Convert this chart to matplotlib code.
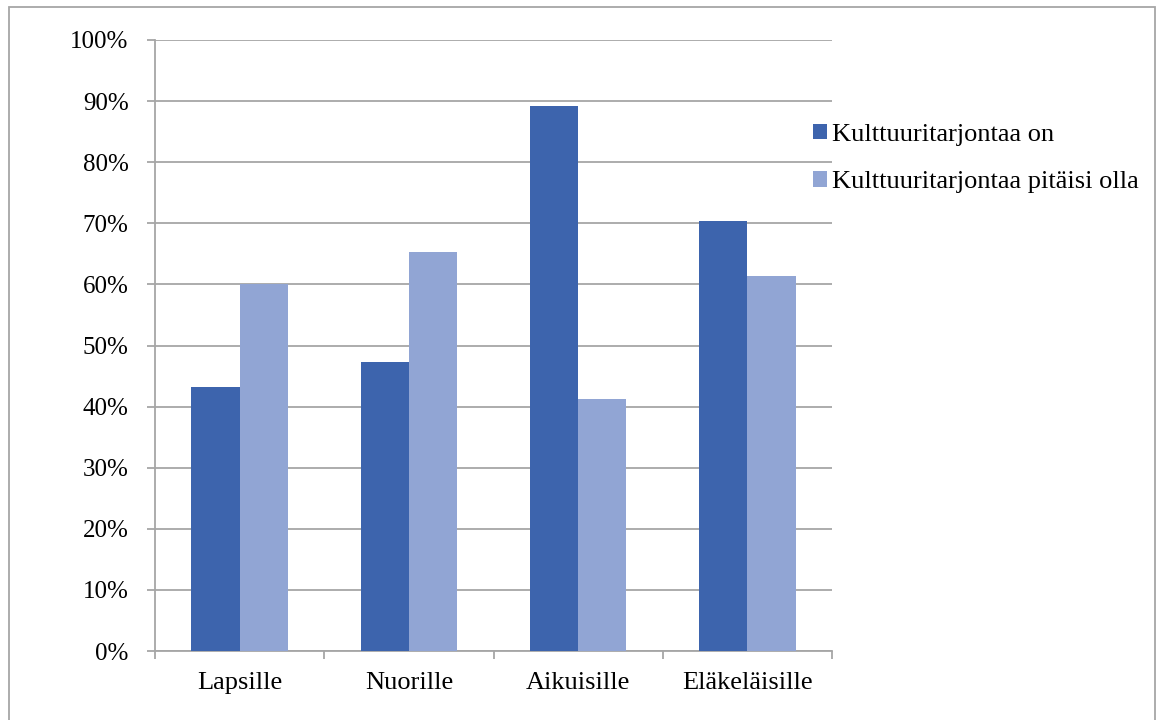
import matplotlib
matplotlib.use("Agg")
import matplotlib.pyplot as plt
import numpy as np
from matplotlib.patches import Rectangle

categories = ["Lapsille", "Nuorille", "Aikuisille", "Eläkeläisille"]
series_names = ["Kulttuuritarjontaa on", "Kulttuuritarjontaa pitäisi olla"]
on_values = [43.2, 47.3, 89.2, 70.3]
should_values = [60.1, 65.3, 41.3, 61.3]
y_ticks = [0, 10, 20, 30, 40, 50, 60, 70, 80, 90, 100]
y_tick_labels = [f"{t}%" for t in y_ticks]

dark = "#3D64AD"
light = "#91A5D4"
grid_col = "#A6A6A6"

plt.rcParams["font.family"] = ["Liberation Serif", "DejaVu Serif"]

W, H = 1160, 720
fig = plt.figure(figsize=(W / 100, H / 100), dpi=100)
fig.patch.set_facecolor("white")

# axes box in pixels: left 155, right 832, top 40, bottom 651
left, right, top, bottom = 155, 832, 40, 651
ax = fig.add_axes([left / W, 1 - bottom / H, (right - left) / W, (bottom - top) / H])

x = np.arange(len(categories))
bw = 1 / 3.5
ax.bar(x - bw / 2, on_values, bw, color=dark, label=series_names[0], zorder=3)
ax.bar(x + bw / 2, should_values, bw, color=light, label=series_names[1], zorder=3)

ax.set_xlim(-0.5, len(categories) - 0.5)
ax.set_ylim(0, 100)
ax.set_yticks(y_ticks)
ax.set_yticklabels(y_tick_labels)
ax.set_xticks(x)
ax.set_xticklabels(categories)
ax.set_xticks(np.arange(len(categories) + 1) - 0.5, minor=True)

ax.yaxis.grid(True, color=grid_col, linewidth=1.3, zorder=0)
for s in ["top", "right"]:
    ax.spines[s].set_visible(False)
for s in ["left", "bottom"]:
    ax.spines[s].set_color(grid_col)
    ax.spines[s].set_linewidth(1.3)

ax.tick_params(axis="y", length=6, width=1.3, color=grid_col, pad=13, labelsize=18)
ax.tick_params(axis="x", which="major", length=0, pad=15, labelsize=19)
ax.tick_params(axis="x", which="minor", length=6, width=1.3, color=grid_col)

leg = fig.legend(loc="upper left", bbox_to_anchor=(802 / W, 1 - 113 / H),
                 frameon=False, fontsize=19, handlelength=0.55, handleheight=0.55,
                 handletextpad=0.2, labelspacing=0.95, borderaxespad=0)

# outer chart frame
fig.add_artist(Rectangle((9 / W, -0.01), (1155 - 9) / W, 1 - 7 / H + 0.01,
                         transform=fig.transFigure, fill=False,
                         edgecolor=grid_col, linewidth=1.3))

fig.savefig("out.png", dpi=100, facecolor="white")
